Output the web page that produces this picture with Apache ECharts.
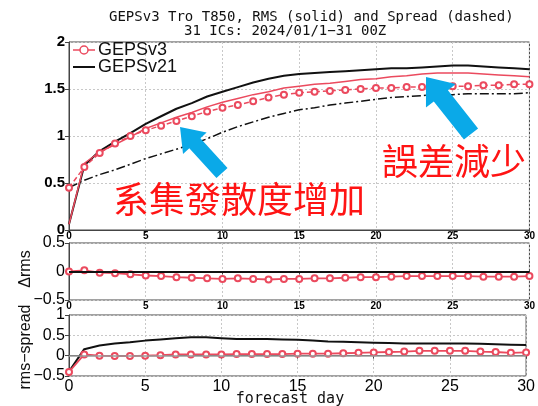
<!DOCTYPE html>
<html>
<head>
<meta charset="utf-8">
<title>GEPSv3 Tro T850</title>
<script src="https://cdn.jsdelivr.net/npm/echarts@6/dist/echarts.min.js"></script>
<style>
  html, body { margin: 0; padding: 0; background: #fff; }
  #chart { width: 538px; height: 406px; }
</style>
</head>
<body>
<div id="chart"></div>
<script>
// forecast day
const days = [0,1,2,3,4,5,6,7,8,9,10,11,12,13,14,15,16,17,18,19,20,21,22,23,24,25,26,27,28,29,30]

// top panel: RMS (solid) and spread (dashed)
const v21Rms = [0.06,0.69,0.84,0.94,1.03,1.13,1.21,1.29,1.35,1.42,1.47,1.52,1.57,1.61,1.64,1.66,1.67,1.68,1.69,1.70,1.71,1.72,1.72,1.73,1.74,1.75,1.75,1.74,1.73,1.72,1.71]
const v21Spread = [0.45,0.53,0.59,0.64,0.70,0.76,0.81,0.86,0.91,0.97,1.04,1.10,1.15,1.20,1.24,1.28,1.30,1.33,1.35,1.37,1.39,1.41,1.42,1.43,1.44,1.44,1.45,1.45,1.45,1.45,1.46]
const v3Rms = [0.06,0.71,0.83,0.91,0.99,1.08,1.14,1.20,1.25,1.31,1.36,1.40,1.44,1.47,1.51,1.53,1.55,1.56,1.58,1.60,1.61,1.63,1.64,1.66,1.67,1.67,1.67,1.66,1.65,1.64,1.63]
const v3Spread = [0.45,0.67,0.82,0.92,1.00,1.06,1.11,1.16,1.21,1.26,1.30,1.33,1.37,1.41,1.44,1.46,1.47,1.48,1.49,1.50,1.51,1.51,1.52,1.52,1.53,1.53,1.53,1.54,1.54,1.55,1.55]

// middle panel: delta rms (v3 - v21)
const v3DeltaRms = [0.00,0.02,-0.02,-0.03,-0.05,-0.07,-0.08,-0.10,-0.11,-0.12,-0.13,-0.12,-0.13,-0.14,-0.13,-0.13,-0.12,-0.12,-0.11,-0.10,-0.10,-0.09,-0.08,-0.08,-0.08,-0.08,-0.08,-0.09,-0.09,-0.09,-0.08]

// bottom panel: rms - spread
const v21RmsSpread = [-0.39,0.16,0.25,0.30,0.33,0.37,0.40,0.43,0.45,0.45,0.43,0.41,0.41,0.41,0.40,0.39,0.37,0.35,0.34,0.33,0.32,0.31,0.30,0.30,0.30,0.30,0.30,0.29,0.28,0.27,0.26]
const v3RmsSpread = [-0.40,0.03,0.00,-0.01,-0.01,0.00,0.01,0.03,0.03,0.03,0.03,0.04,0.04,0.04,0.04,0.05,0.05,0.05,0.06,0.07,0.08,0.09,0.10,0.12,0.12,0.12,0.12,0.10,0.09,0.07,0.08]

const RED = '#eb4a5e'
const BLUE = '#0aa9e8'
const FONT = 'Liberation Sans'

const pairs = arr => days.map((d, i) => [d, arr[i]])

// 画箭头（注释用）
function arrow(tail, tip, shaftW, headW, headL) {
    const dx = tip[0] - tail[0], dy = tip[1] - tail[1]
    const len = Math.sqrt(dx * dx + dy * dy)
    const ux = dx / len, uy = dy / len
    const nx = -uy, ny = ux
    const bx = tip[0] - ux * headL, by = tip[1] - uy * headL
    const p = (x, y, w) => [x + nx * w, y + ny * w]
    return {
        type: 'polygon',
        shape: {
            points: [
                p(tail[0], tail[1], shaftW / 2),
                p(bx, by, shaftW / 2),
                p(bx, by, headW / 2),
                tip,
                p(bx, by, -headW / 2),
                p(bx, by, -shaftW / 2),
                p(tail[0], tail[1], -shaftW / 2)
            ]
        },
        style: {fill: BLUE},
        z: 100
    }
}

const chart = echarts.init(document.getElementById('chart'))

const gridBase = {left: 69, right: 8, show: true, borderColor: '#444', borderWidth: 1}
const splitDot = {show: true, lineStyle: {color: '#c8c8c8', type: [2, 2], width: 1}}

function xAxisFor(idx, big) {
    return {
        type: 'value', gridIndex: idx, min: 0, max: 30, interval: 5,
        axisLine: {show: true, lineStyle: {color: '#444', width: 1}},
        axisTick: {show: true, length: 3, inside: false, lineStyle: {color: '#444'}},
        axisLabel: big
            ? {fontSize: 16, color: '#000', fontFamily: FONT, margin: 3}
            : {fontSize: 10, fontWeight: 'bold', color: '#000', fontFamily: FONT, margin: 1},
        splitLine: splitDot
    }
}

function yAxisFor(idx, min, max, big) {
    return {
        type: 'value', gridIndex: idx, min: min, max: max, interval: 0.5,
        axisLine: {show: true, lineStyle: {color: '#444', width: 1}},
        axisTick: {show: true, length: 4, lineStyle: {color: '#444'}},
        axisLabel: {
            fontSize: big ? 16 : 15, fontWeight: big ? 'normal' : 'bold',
            color: '#000', fontFamily: FONT, margin: 4,
            formatter: v => String(v).replace('-', '\u2212')
        },
        splitLine: splitDot
    }
}

const circleSeries = {symbol: 'emptyCircle', symbolSize: 6, itemStyle: {color: RED, borderWidth: 1.3}}

const option = {
    animation: false,
    backgroundColor: '#fff',
    grid: [
        Object.assign({top: 42, height: 188}, gridBase),
        Object.assign({top: 243, height: 57}, gridBase),
        Object.assign({top: 315, height: 61}, gridBase)
    ],
    xAxis: [xAxisFor(0, false), xAxisFor(1, false), xAxisFor(2, true)],
    yAxis: [yAxisFor(0, 0, 2, false), yAxisFor(1, -0.5, 0.5, true), yAxisFor(2, -0.5, 1, true)],
    series: [
        {
            name: 'GEPSv21', type: 'line', xAxisIndex: 0, yAxisIndex: 0,
            data: pairs(v21Rms), symbol: 'none',
            lineStyle: {color: '#111', width: 2}
        },
        {
            name: 'GEPSv21 spread', type: 'line', xAxisIndex: 0, yAxisIndex: 0,
            data: pairs(v21Spread), symbol: 'none',
            lineStyle: {color: '#111', width: 1.5, type: [9, 3, 2, 3]}
        },
        {
            name: 'GEPSv3 rms', type: 'line', xAxisIndex: 0, yAxisIndex: 0,
            data: pairs(v3Rms), symbol: 'none',
            lineStyle: {color: RED, width: 1.5}
        },
        Object.assign({
            name: 'GEPSv3', type: 'line', xAxisIndex: 0, yAxisIndex: 0,
            data: pairs(v3Spread),
            lineStyle: {color: RED, width: 1.5, type: [5, 3]}
        }, circleSeries),
        Object.assign({
            name: 'GEPSv3 drms', type: 'line', xAxisIndex: 1, yAxisIndex: 1,
            data: pairs(v3DeltaRms),
            lineStyle: {color: RED, width: 1.8},
            markLine: {
                silent: true, symbol: 'none', label: {show: false},
                lineStyle: {color: '#111', width: 2, type: 'solid'},
                data: [{yAxis: 0}]
            },
            z: 3
        }, circleSeries),
        {
            name: 'GEPSv21 rs', type: 'line', xAxisIndex: 2, yAxisIndex: 2,
            data: pairs(v21RmsSpread), symbol: 'none',
            lineStyle: {color: '#111', width: 2}
        },
        Object.assign({
            name: 'GEPSv3 rs', type: 'line', xAxisIndex: 2, yAxisIndex: 2,
            data: pairs(v3RmsSpread),
            lineStyle: {color: RED, width: 1.8},
            markLine: {
                silent: true, symbol: 'none', label: {show: false},
                lineStyle: {color: '#9a9a9a', width: 1.5, type: 'solid'},
                data: [{yAxis: 0}]
            }
        }, circleSeries)
    ],
    graphic: [
        // 标题
        {
            type: 'text', left: 109, top: 10, z: 50,
            style: {text: 'GEPSv3 Tro T850, RMS (solid) and Spread (dashed)', font: '14px "DejaVu Sans Mono"', fill: '#111'}
        },
        {
            type: 'text', left: 184, top: 24, z: 50,
            style: {text: '31 ICs: 2024/01/1\u221231 00Z', font: '14px "DejaVu Sans Mono"', fill: '#111'}
        },
        {
            type: 'text', x: 290, y: 399, z: 50,
            style: {text: 'forecast day', font: '15px "DejaVu Sans Mono"', fill: '#111', align: 'center', verticalAlign: 'middle'}
        },
        {
            type: 'text', x: 26, y: 269, rotation: Math.PI / 2, z: 50,
            style: {text: '\u0394rms', font: '16px "Liberation Sans"', fill: '#111', align: 'center', verticalAlign: 'middle'}
        },
        {
            type: 'text', x: 26, y: 347, rotation: Math.PI / 2, z: 50,
            style: {text: 'rms\u2212spread', font: '16px "Liberation Sans"', fill: '#111', align: 'center', verticalAlign: 'middle'}
        },
        // 图例
        {type: 'line', shape: {x1: 73, y1: 50, x2: 95, y2: 50}, style: {stroke: RED, lineWidth: 1.5}, z: 60},
        {type: 'circle', shape: {cx: 84, cy: 50, r: 4}, style: {fill: '#fff', stroke: RED, lineWidth: 1.5}, z: 61},
        {
            type: 'text', x: 98, y: 50, z: 60,
            style: {text: 'GEPSv3', font: '18px "Liberation Sans"', fill: '#111', verticalAlign: 'middle'}
        },
        {type: 'line', shape: {x1: 73, y1: 67, x2: 95, y2: 67}, style: {stroke: '#111', lineWidth: 2}, z: 60},
        {
            type: 'text', x: 98, y: 67, z: 60,
            style: {text: 'GEPSv21', font: '18px "Liberation Sans"', fill: '#111', verticalAlign: 'middle'}
        },
        // 箭头和注释文字
        arrow([222, 173], [180, 127], 15, 32, 22),
        arrow([471, 134], [426, 77], 18, 38, 24),
        {
            type: 'text', x: 113, y: 199, z: 100,
            style: {text: '系集發散度增加', font: '36px "Noto Sans CJK TC"', fill: '#ff1414', verticalAlign: 'middle'}
        },
        {
            type: 'text', x: 382, y: 161, z: 100,
            style: {text: '誤差減少', font: '36px "Noto Sans CJK TC"', fill: '#ff1414', verticalAlign: 'middle'}
        }
    ]
}

chart.setOption(option)
</script>
</body>
</html>
